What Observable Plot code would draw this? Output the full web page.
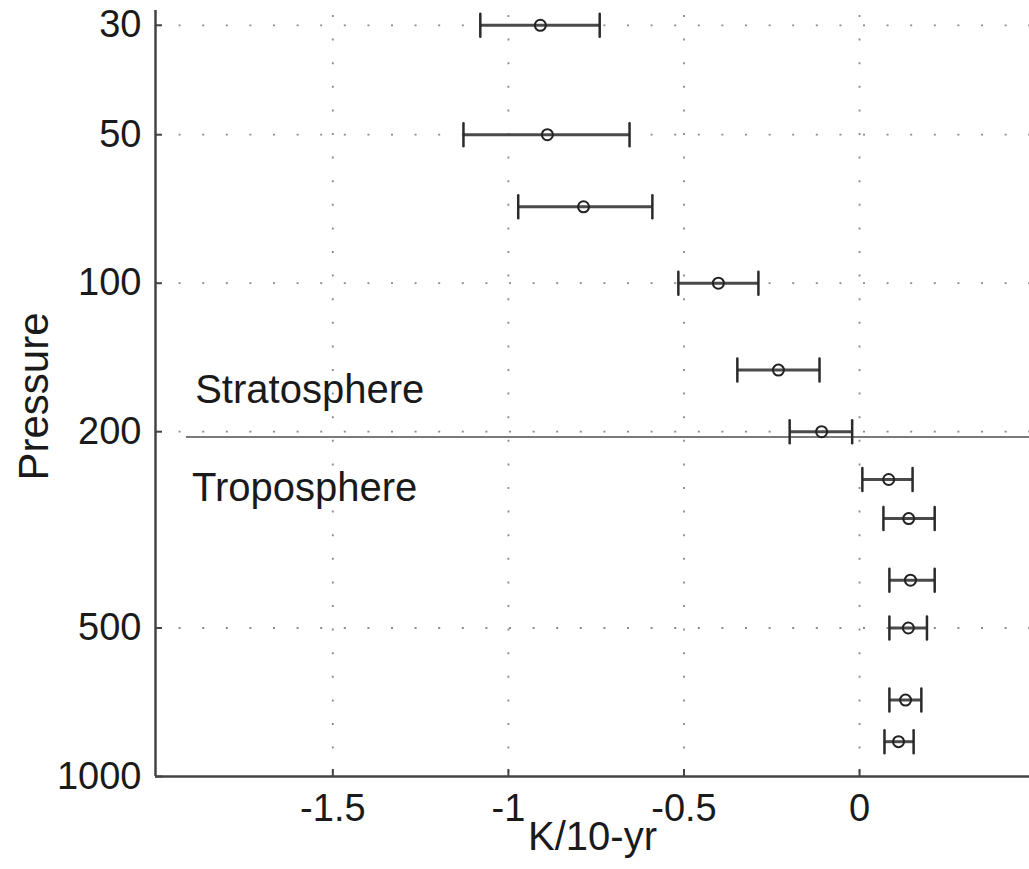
<!DOCTYPE html>
<html>
<head>
<meta charset="utf-8">
<script src="https://cdn.jsdelivr.net/npm/d3@7"></script>
<script src="https://cdn.jsdelivr.net/npm/@observablehq/plot@0.6"></script>
<style>
  html, body { margin: 0; padding: 0; background: #fff; }
</style>
</head>
<body>
<div id="chart"></div>
<script>
// Pressure levels (hPa) and temperature trend (K/10-yr) with error bars
const pressure = [30, 50, 70, 100, 150, 200, 250, 300, 400, 500, 700, 850];
const trend    = [-0.909, -0.889, -0.786, -0.402, -0.231, -0.108, 0.083, 0.140, 0.145, 0.139, 0.131, 0.111];
const lower    = [-1.080, -1.128, -0.972, -0.516, -0.348, -0.199, 0.008, 0.068, 0.085, 0.085, 0.085, 0.071];
const upper    = [-0.740, -0.655, -0.590, -0.288, -0.114, -0.021, 0.151, 0.214, 0.214, 0.192, 0.176, 0.154];

const xTicks = [-1.5, -1, -0.5, 0];
const yTicks = [30, 50, 100, 200, 500, 1000];
const xDomain = [-2.005, 0.484];
const yDomain = [28, 1000];

const tropopauseP = [205];
const tropopauseX = [-1.917, 0.484];

const labelText = ["Stratosphere", "Troposphere"];
const labelX = [-1.892, -1.901];
const labelP = [165, 260];

const xLabel = "K/10-yr";
const yLabel = "Pressure";

const data = pressure.map((p, i) => ({p, t: trend[i], lo: lower[i], hi: upper[i]}));
const tropo = tropopauseP.map(p => ({p, x1: tropopauseX[0], x2: tropopauseX[1]}));
const labels = labelText.map((text, i) => ({text, x: labelX[i], p: labelP[i]}));

const capShape = {
  draw(context, l) {
    context.moveTo(0, 0);
    context.lineTo(0, -l);
  }
};

const chart = Plot.plot({
  width: 1029,
  height: 869,
  marginLeft: 155,
  marginRight: 0,
  marginTop: 10,
  marginBottom: 93,
  style: {fontFamily: "'Liberation Sans', Arial, Helvetica, sans-serif", fontSize: "38px", color: "#1a1a1a", background: "#fff"},
  x: {domain: xDomain},
  y: {type: "log", domain: yDomain, reverse: true},
  marks: [
    Plot.gridX(xTicks, {stroke: "#8a8a8a", strokeOpacity: 1, strokeWidth: 1.8, strokeDasharray: "2,21.6", strokeDashoffset: -5}),
    Plot.gridY(yTicks.filter(d => d < yDomain[1]), {stroke: "#8a8a8a", strokeOpacity: 1, strokeWidth: 1.8, strokeDasharray: "2,21.6"}),
    Plot.ruleY(tropo, {y: "p", x1: "x1", x2: "x2", stroke: "#7a7a7a", strokeWidth: 2}),
    Plot.ruleX([xDomain[0]], {stroke: "#444", strokeWidth: 2.5}),
    Plot.ruleY([yDomain[1]], {stroke: "#444", strokeWidth: 2.5}),
    Plot.axisX(xTicks, {anchor: "bottom", tickSize: -7, tickPadding: 25, stroke: "#444", strokeWidth: 2, fontSize: 38,
      tickFormat: d => String(d), label: null}),
    Plot.axisY(yTicks, {anchor: "left", tickSize: -7, tickPadding: 21, stroke: "#444", strokeWidth: 2, fontSize: 38,
      tickFormat: d => String(d), label: null}),
    Plot.text([xLabel], {frameAnchor: "bottom", dy: 61, lineAnchor: "middle", textAnchor: "middle", fontSize: 40, fill: "#1a1a1a"}),
    Plot.text([yLabel], {frameAnchor: "left", dx: -121, dy: 3, rotate: -90, lineAnchor: "middle", textAnchor: "middle", fontSize: 42, fill: "#1a1a1a"}),
    Plot.ruleY(data, {y: "p", x1: "lo", x2: "hi", stroke: "#4a4a4a", strokeWidth: 3}),
    Plot.vector(data, {x: "lo", y: "p", length: 23, rotate: 0, anchor: "middle", shape: capShape, stroke: "#2a2a2a", strokeWidth: 2.5}),
    Plot.vector(data, {x: "hi", y: "p", length: 23, rotate: 0, anchor: "middle", shape: capShape, stroke: "#2a2a2a", strokeWidth: 2.5}),
    Plot.dot(data, {x: "t", y: "p", r: 5.5, stroke: "#222", strokeWidth: 2, fill: "none"}),
    Plot.text(labels, {x: "x", y: "p", text: "text", textAnchor: "start", lineAnchor: "middle", fontSize: 40, fill: "#1a1a1a"})
  ]
});

document.getElementById("chart").appendChild(chart);
</script>
</body>
</html>
